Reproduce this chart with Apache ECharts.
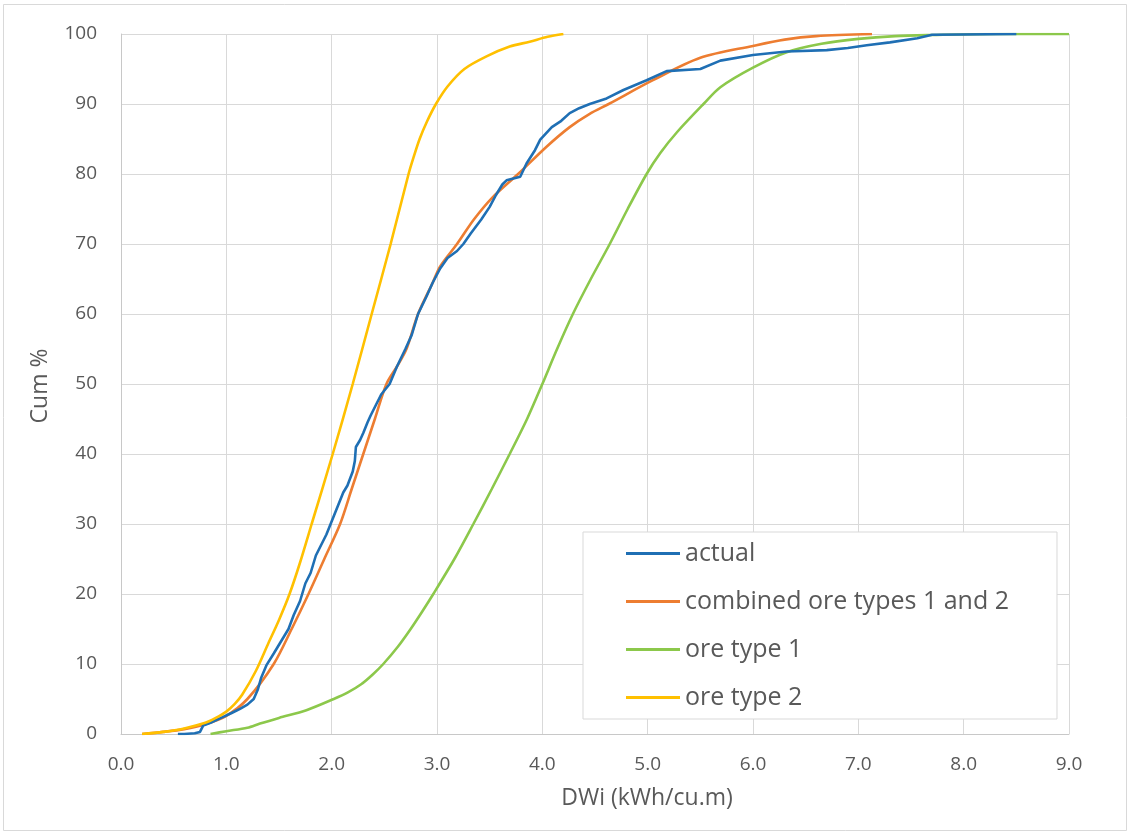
<!DOCTYPE html>
<html>
<head>
<meta charset="utf-8">
<script src="https://cdn.jsdelivr.net/npm/echarts@6/dist/echarts.min.js"></script>
<style>
html,body{margin:0;padding:0;background:#fff;}
#chart{width:1129px;height:838px;}
</style>
</head>
<body>
<div id="chart"></div>
<script>
// ---- data (x = DWi kWh/cu.m, y = cumulative %) ----
var xTicks = ['0.0','1.0','2.0','3.0','4.0','5.0','6.0','7.0','8.0','9.0'];
var seriesNames = ['actual', 'combined ore types 1 and 2', 'ore type 1', 'ore type 2'];

var actual = [
  [0.54,0],[0.6,0],[0.7,0.1],[0.75,0.3],[0.78,1.2],[0.85,1.6],[0.95,2.3],[1.05,3.0],[1.13,3.6],
  [1.2,4.2],[1.26,5.0],[1.3,6.4],[1.33,8],[1.38,9.8],[1.45,11.5],[1.51,13],[1.55,14],[1.59,15],
  [1.64,17],[1.70,19],[1.75,21.5],[1.80,23],[1.85,25.5],[1.9,27],[1.95,28.5],[1.99,30],[2.03,31.5],
  [2.07,33],[2.11,34.5],[2.15,35.5],[2.2,37.5],[2.22,39],[2.23,41],[2.27,42],[2.30,43],[2.34,44.5],
  [2.37,45.5],[2.42,47],[2.47,48.5],[2.55,50],[2.62,52.5],[2.70,55],[2.76,57],[2.82,60],[2.9,62.5],
  [2.96,64.5],[3.03,66.5],[3.1,68],[3.19,69],[3.25,70],[3.32,71.5],[3.42,73.5],[3.50,75.3],[3.56,77],
  [3.62,78.5],[3.66,79.1],[3.79,79.6],[3.85,81.5],[3.93,83.4],[3.98,84.9],[4.09,86.7],[4.18,87.6],
  [4.26,88.7],[4.35,89.4],[4.45,90],[4.61,90.8],[4.77,92],[4.99,93.4],[5.18,94.7],[5.5,95],[5.69,96.2],
  [6.0,97],[6.32,97.5],[6.7,97.7],[6.9,98],[7.08,98.4],[7.3,98.8],[7.56,99.4],[7.7,99.9],[8.5,100]
];
var combined = [
  [0.2,0],[0.4,0.3],[0.6,0.7],[0.8,1.4],[1.0,2.6],[1.2,5.0],[1.45,10],[1.62,15],[1.78,20],[1.93,25],
  [2.08,30],[2.19,35],[2.30,40],[2.41,45],[2.52,50],[2.62,52.5],[2.71,55],[2.82,60],[2.96,64.5],
  [3.03,66.8],[3.19,70],[3.35,73.5],[3.53,76.7],[3.77,80],[4.04,83.9],[4.26,86.7],[4.45,88.6],
  [4.63,90],[5.05,93.4],[5.5,96.6],[6.0,98.3],[6.3,99.2],[6.6,99.7],[7.13,100]
];
var oreType1 = [
  [0.85,0],[1.0,0.4],[1.2,0.9],[1.32,1.5],[1.5,2.3],[1.76,3.4],[2.02,5],[2.15,5.9],[2.28,7.1],[2.39,8.5],
  [2.49,10],[2.63,12.5],[2.75,15],[2.86,17.5],[2.965,20],[3.165,25],[3.345,30],[3.52,35],[3.69,40],
  [3.855,45],[4.0,50],[4.14,55],[4.29,60],[4.46,65],[4.64,70],[4.81,75],[4.99,80],[5.12,83],[5.28,86],
  [5.53,90],[5.69,92.4],[6.0,95.2],[6.32,97.4],[6.65,98.6],[7.0,99.3],[7.35,99.7],[7.7,99.85],[8.3,100],[9.0,100]
];
var oreType2 = [
  [0.2,0],[0.4,0.3],[0.6,0.8],[0.8,1.6],[0.9,2.3],[1.0,3.2],[1.08,4.3],[1.15,5.6],[1.28,9],
  [1.4,13],[1.5,16.3],[1.6,20],[1.7,24.5],[1.81,30],[2.01,40],[2.2,50],[2.38,60],[2.56,70],
  [2.73,80],[2.78,82.5],[2.835,85],[2.905,87.5],[2.99,90],[3.1,92.5],[3.26,95],[3.47,96.8],
  [3.69,98.2],[3.88,98.9],[4.05,99.6],[4.2,100]
];
var colors = ['#1f6fb4', '#ed7d31', '#8cc84b', '#ffc000'];

var chart = echarts.init(document.getElementById('chart'), null, {renderer:'canvas'});
var font = '"Open Sans", "Liberation Sans", sans-serif';
var dataSets = [actual, combined, oreType1, oreType2];
var series = seriesNames.map(function(n, i){
  return {
    name: n, type: 'line', data: dataSets[i], showSymbol: false, smooth: i === 0 ? false : 0.3,
    lineStyle: {width: 2.6, color: colors[i]}, itemStyle: {color: colors[i]},
    z: [4,3,2,5][i]
  };
});

chart.setOption({
  animation: false,
  backgroundColor: '#fff',
  textStyle: {fontFamily: font},
  graphic: [
    {type:'rect', shape:{x:3.5,y:4.5,width:1123,height:826}, style:{fill:'none', stroke:'#d9d9d9', lineWidth:1}, z:-1},
    {type:'text', x: 647, y: 798, style:{text:'DWi (kWh/cu.m)', font:'23px ' + font, fill:'#595959', align:'center', verticalAlign:'middle'}},
    {type:'text', x: 40, y: 386, rotation: Math.PI/2, style:{text:'Cum %', font:'23px ' + font, fill:'#595959', align:'center', verticalAlign:'middle'}}
  ],
  grid: {left: 121, right: 60, top: 34, bottom: 104},
  legend: {
    data: seriesNames, orient: 'vertical', left: 583, top: 532,
    padding: [9, 48, 9, 43], itemGap: 23, itemWidth: 54, itemHeight: 3, icon: 'rect',
    borderColor: '#d9d9d9', borderWidth: 1, backgroundColor: '#fff',
    textStyle: {fontSize: 25, color: '#595959', fontFamily: font}
  },
  xAxis: {
    type: 'value', min: 0, max: 9, interval: 1,
    axisLine: {show: true, lineStyle: {color: '#c8c8c8', width: 1}},
    axisTick: {show: false},
    axisLabel: {margin: 21, fontSize: 19, color: '#595959', formatter: function(v){ return xTicks[Math.round(v)]; }},
    splitLine: {show: true, lineStyle: {color: '#d9d9d9', width: 1}}
  },
  yAxis: {
    type: 'value', min: 0, max: 100, interval: 10,
    axisLine: {show: true, lineStyle: {color: '#c8c8c8', width: 1}},
    axisTick: {show: false},
    axisLabel: {margin: 24, fontSize: 19, color: '#595959'},
    splitLine: {show: true, lineStyle: {color: '#d9d9d9', width: 1}}
  },
  series: series
});
</script>
</body>
</html>
